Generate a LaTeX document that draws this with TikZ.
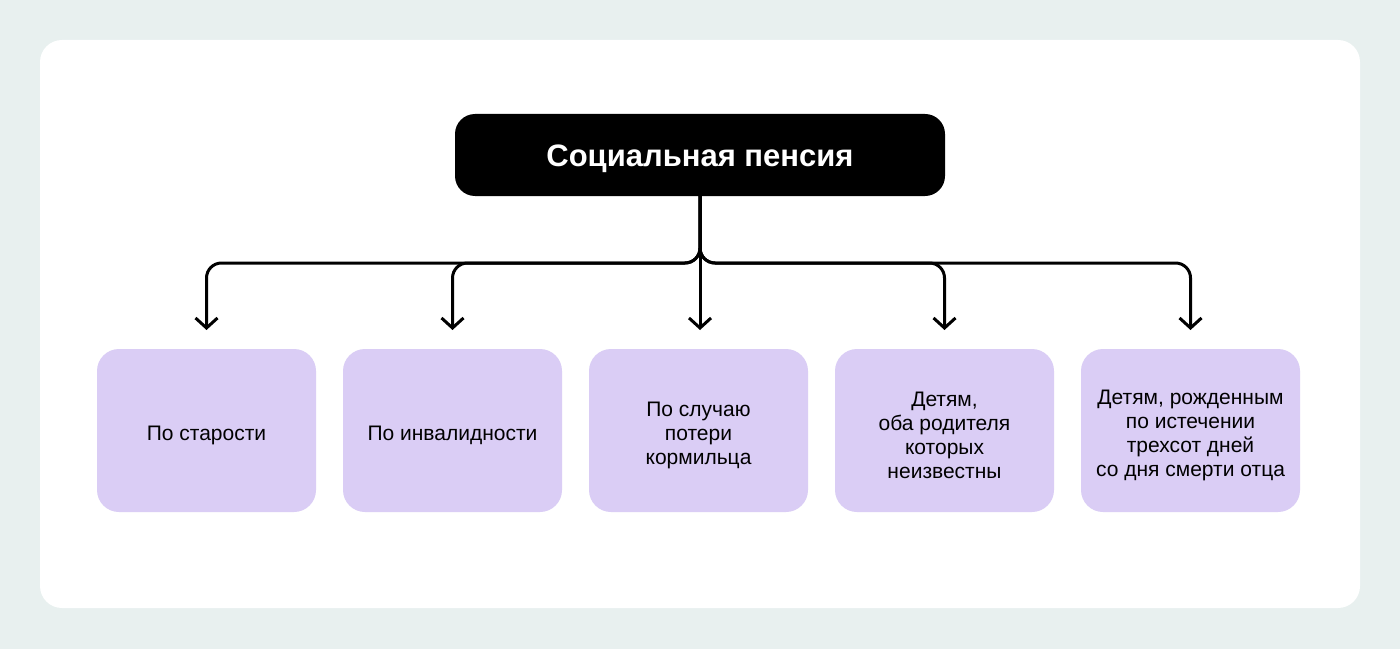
\documentclass[tikz,border=0pt]{standalone}
\usepackage{fontspec}
\setmainfont{Liberation Sans}
\usetikzlibrary{arrows.meta,positioning,calc}
\definecolor{pagebg}{HTML}{E8F0EF}
\definecolor{cardlilac}{HTML}{DACDF5}
\newcommand{\toppad}{\rule{0pt}{12pt}}

\begin{document}
\begin{tikzpicture}[x=0.5pt,y=0.5pt,
    branch/.style={line width=1.5pt, rounded corners=7.5pt,
      -{Straight Barb[length=5pt,width=11pt]}, shorten >=9.5pt},
    kind/.style={fill=cardlilac, rounded corners=11pt, minimum width=109.5pt,
      minimum height=81.5pt, inner sep=0pt, outer sep=0pt, align=center,
      font=\fontsize{10.5}{12}\selectfont}]

            % Draw the background and the card
            \fill[pagebg] (0,0) rectangle (1400,649);
            \fill[white, rounded corners=11pt] (40,41) rectangle (1360,609);

            % Draw the title
            \node[fill=black, text=white, rounded corners=10pt, minimum width=245pt,
              minimum height=41pt, outer sep=0pt, font=\fontsize{15.5}{17}\selectfont\bfseries]
              (pension) at (700,494) {\rule{0pt}{15pt}Социальная пенсия};

            % Draw the five kinds below
            \node[kind] (old) at (206.5,218.5) {\toppad По старости};
            \node[kind, right=13.5pt of old] (disabled) {\toppad По инвалидности};
            \node[kind, right=13.5pt of disabled] (loss) {\toppad По случаю\\потери\\кормильца};
            \node[kind, right=13.5pt of loss] (orphans) {\toppad Детям,\\оба родителя\\которых\\неизвестны};
            \node[kind, right=13.5pt of orphans] (posthumous) {\toppad Детям, рожденным\\по истечении\\трехсот дней\\со дня смерти отца};

            % Draw the arrows
            \coordinate (rail) at (700,386);
            \draw[branch] (pension.south) -- (pension.south |- rail) -| (old.north);
            \draw[branch] (pension.south) -- (pension.south |- rail) -| (disabled.north);
            \draw[branch] (pension.south) -- (pension.south |- loss.north);
            \draw[branch] (pension.south) -- (pension.south |- rail) -| (orphans.north);
            \draw[branch] (pension.south) -- (pension.south |- rail) -| (posthumous.north);

        \end{tikzpicture}
\end{document}
